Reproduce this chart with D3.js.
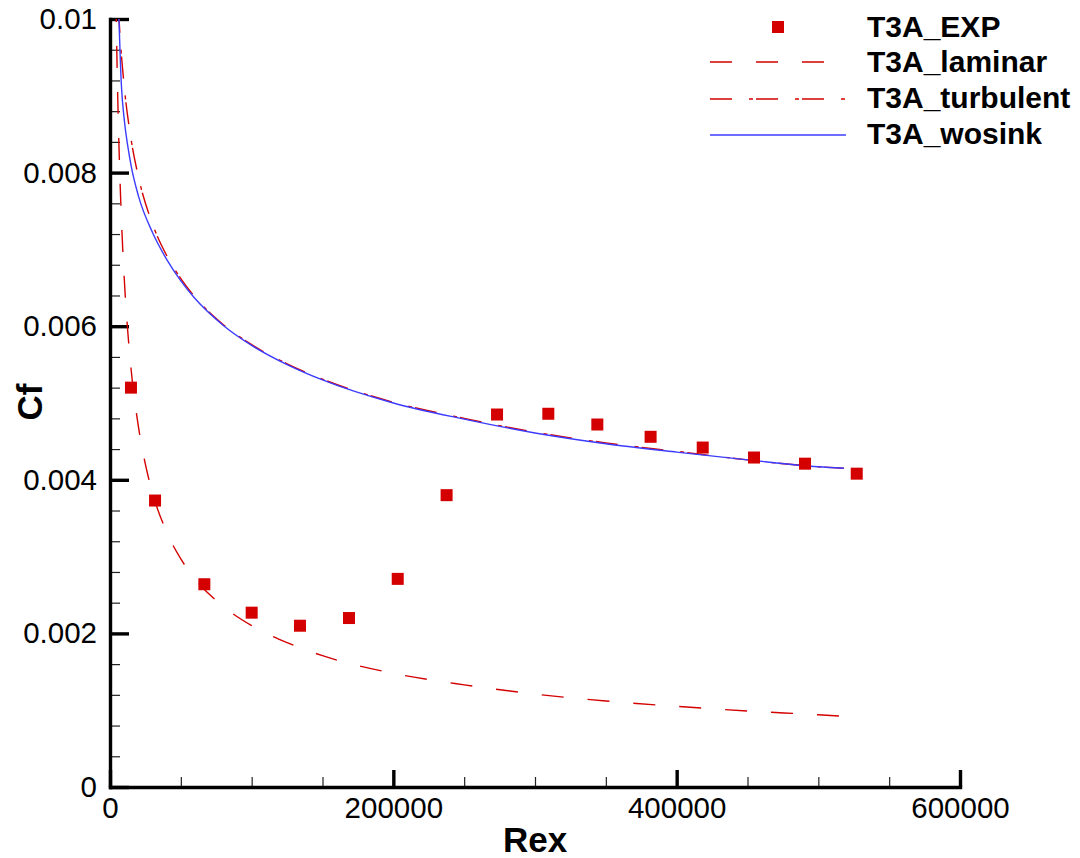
<!DOCTYPE html>
<html>
<head>
<meta charset="utf-8">
<script src="https://cdn.jsdelivr.net/npm/d3@7"></script>
<style>
  html, body { margin: 0; padding: 0; background: #fff; }
  svg { display: block; }
  text { font-family: "Liberation Sans", Arial, Helvetica, sans-serif; }
</style>
</head>
<body>
<svg id="chart" width="1080" height="858"></svg>
<script>
// ---------------- data ----------------
const seriesNames = ["T3A_EXP", "T3A_laminar", "T3A_turbulent", "T3A_wosink"];

const expRex = [14800, 31800, 66600, 100000, 134100, 168700, 203100, 237600,
                273200, 309400, 344000, 381600, 418400, 454600, 490600, 527100];
const expCf  = [0.00520, 0.00373, 0.00264, 0.00227, 0.00210, 0.00220, 0.00271, 0.00380,
                0.00485, 0.00486, 0.00472, 0.00456, 0.00442, 0.00429, 0.00421, 0.00408];

const lamRex = [4200, 5000, 6000, 7500, 10000, 12500, 15000, 20000, 25000, 30000, 40000,
                50000, 60000, 80000, 100000, 125000, 150000, 200000, 250000, 300000,
                350000, 400000, 450000, 500000, 518000];
const lamCf  = [0.01025, 0.00939, 0.00857, 0.00767, 0.00664, 0.00594, 0.00542, 0.00470,
                0.00420, 0.00383, 0.00332, 0.00297, 0.00271, 0.00235, 0.00210, 0.00188,
                0.00171, 0.00148, 0.00133, 0.00121, 0.00112, 0.00105, 0.00099, 0.00094,
                0.00092];

const turbRex = [6000, 7500, 10000, 15000, 20000, 30000, 40000, 50000, 60000, 80000,
                 100000, 125000, 150000, 200000, 250000, 300000, 350000, 400000, 450000,
                 500000, 518000];
const turbCf  = [0.01011, 0.00967, 0.00913, 0.00842, 0.00795, 0.00733, 0.00692, 0.00662,
                 0.00638, 0.00602, 0.00576, 0.00551, 0.00531, 0.00501, 0.00480, 0.00462,
                 0.00448, 0.00437, 0.00426, 0.00417, 0.00415];

const wosRex = [6000, 8000, 10000, 12500, 15000, 20000, 30000, 40000, 50000, 60000, 80000,
                100000, 125000, 150000, 200000, 250000, 300000, 350000, 400000, 450000,
                500000, 518000];
const wosCf  = [0.01020, 0.00915, 0.00870, 0.00835, 0.00808, 0.00770, 0.00722, 0.00687,
                0.00659, 0.00636, 0.00601, 0.00575, 0.00550, 0.00530, 0.00500, 0.00479,
                0.00461, 0.00447, 0.00436, 0.00426, 0.00417, 0.00415];

const xTicks = [0, 200000, 400000, 600000];
const xMinorTicks = [50000, 100000, 150000, 250000, 300000, 350000, 450000, 500000, 550000];
const yTicks = [0, 0.002, 0.004, 0.006, 0.008, 0.01];
const yMinorTicks = [0.0004, 0.0008, 0.0012, 0.0016, 0.0024, 0.0028, 0.0032, 0.0036,
                     0.0044, 0.0048, 0.0052, 0.0056, 0.0064, 0.0068, 0.0072, 0.0076,
                     0.0084, 0.0088, 0.0092, 0.0096];
const xTitle = "Rex";
const yTitle = "Cf";

// ---------------- layout ----------------
(function () {
const RED = "#d40000";
const BLUE = "#3c3cff";
const svg = d3.select("#chart");
const pL = 110, pR = 960, pT = 19, pB = 787;

const x = d3.scaleLinear().domain([0, 600000]).range([pL, pR]);
const y = d3.scaleLinear().domain([0, 0.01]).range([pB, pT]);

svg.append("rect").attr("width", 1080).attr("height", 858).attr("fill", "#fff");

svg.append("clipPath").attr("id", "clip")
  .append("rect").attr("x", pL).attr("y", pT).attr("width", pR - pL).attr("height", pB - pT);

const fmtX = d => d3.format("d")(d);
const fmtY = d => d === 0 ? "0" : String(+d.toFixed(4));

// minor ticks
svg.append("g").attr("transform", `translate(0,${pB})`)
  .call(d3.axisBottom(x).tickValues(xMinorTicks).tickSizeInner(-10).tickSizeOuter(0).tickFormat(""))
  .call(g => g.select(".domain").remove())
  .call(g => g.selectAll("line").attr("stroke", "#222").attr("stroke-width", 1.2));
svg.append("g").attr("transform", `translate(${pL},0)`)
  .call(d3.axisLeft(y).tickValues(yMinorTicks).tickSizeInner(-10).tickSizeOuter(0).tickFormat(""))
  .call(g => g.select(".domain").remove())
  .call(g => g.selectAll("line").attr("stroke", "#222").attr("stroke-width", 1.2));

// major axes
const gx = svg.append("g").attr("transform", `translate(0,${pB})`)
  .call(d3.axisBottom(x).tickValues(xTicks).tickSizeInner(-17).tickSizeOuter(0).tickPadding(10).tickFormat(fmtX));
const gy = svg.append("g").attr("transform", `translate(${pL},0)`)
  .call(d3.axisLeft(y).tickValues(yTicks).tickSizeInner(-19).tickSizeOuter(0).tickPadding(13).tickFormat(fmtY));

[gx, gy].forEach(g => {
  g.select(".domain").attr("stroke", "#000").attr("stroke-width", 3.4).attr("stroke-linecap", "square");
  g.selectAll(".tick line").attr("stroke", "#000").attr("stroke-width", 3.4);
  g.selectAll(".tick text").attr("fill", "#000").attr("font-size", 29.5)
    .attr("font-family", "'Liberation Sans', Arial, sans-serif");
});

// titles
svg.append("text").attr("x", 535).attr("y", 852).attr("text-anchor", "middle")
  .attr("font-size", 35).attr("font-weight", "bold").text(xTitle);
svg.append("text").attr("transform", "translate(42,402) rotate(-90)").attr("text-anchor", "middle")
  .attr("font-size", 35).attr("font-weight", "bold").text(yTitle);

// lines
const line = d3.line().x(d => x(d[0])).y(d => y(d[1])).curve(d3.curveMonotoneX);
const plot = svg.append("g").attr("clip-path", "url(#clip)");

const lam = lamRex.map((r, i) => [r, lamCf[i]]);
const turb = turbRex.map((r, i) => [r, turbCf[i]]);
const wos = wosRex.map((r, i) => [r, wosCf[i]]);

plot.append("path").attr("d", line(lam)).attr("fill", "none").attr("stroke", RED)
  .attr("stroke-width", 1.4).attr("stroke-dasharray", "22,24");
plot.append("path").attr("d", line(turb)).attr("fill", "none").attr("stroke", RED)
  .attr("stroke-width", 1.4).attr("stroke-dasharray", "22,17,4,3");
plot.append("path").attr("d", line(wos)).attr("fill", "none").attr("stroke", BLUE)
  .attr("stroke-width", 1.4);

// markers
svg.append("g").selectAll("rect").data(expRex.map((r, i) => [r, expCf[i]])).join("rect")
  .attr("x", d => x(d[0]) - 6).attr("y", d => y(d[1]) - 6)
  .attr("width", 12).attr("height", 12).attr("fill", RED);

// legend
const lg = svg.append("g");
const rowY = [27, 62, 99, 135];
const textY = [37, 72, 108, 144];
lg.append("rect").attr("x", 772).attr("y", rowY[0] - 6).attr("width", 12).attr("height", 12).attr("fill", RED);
lg.append("line").attr("x1", 710).attr("x2", 846).attr("y1", rowY[1]).attr("y2", rowY[1])
  .attr("stroke", RED).attr("stroke-width", 1.4).attr("stroke-dasharray", "22,24");
lg.append("line").attr("x1", 710).attr("x2", 846).attr("y1", rowY[2]).attr("y2", rowY[2])
  .attr("stroke", RED).attr("stroke-width", 1.4).attr("stroke-dasharray", "22,17,4,3");
lg.append("line").attr("x1", 710).attr("x2", 846).attr("y1", rowY[3]).attr("y2", rowY[3])
  .attr("stroke", BLUE).attr("stroke-width", 1.4);
seriesNames.forEach((n, i) => {
  lg.append("text").attr("x", 867).attr("y", textY[i]).attr("font-size", 30)
    .attr("font-weight", "bold").attr("fill", "#000").text(n);
});
})();
</script>
</body>
</html>
